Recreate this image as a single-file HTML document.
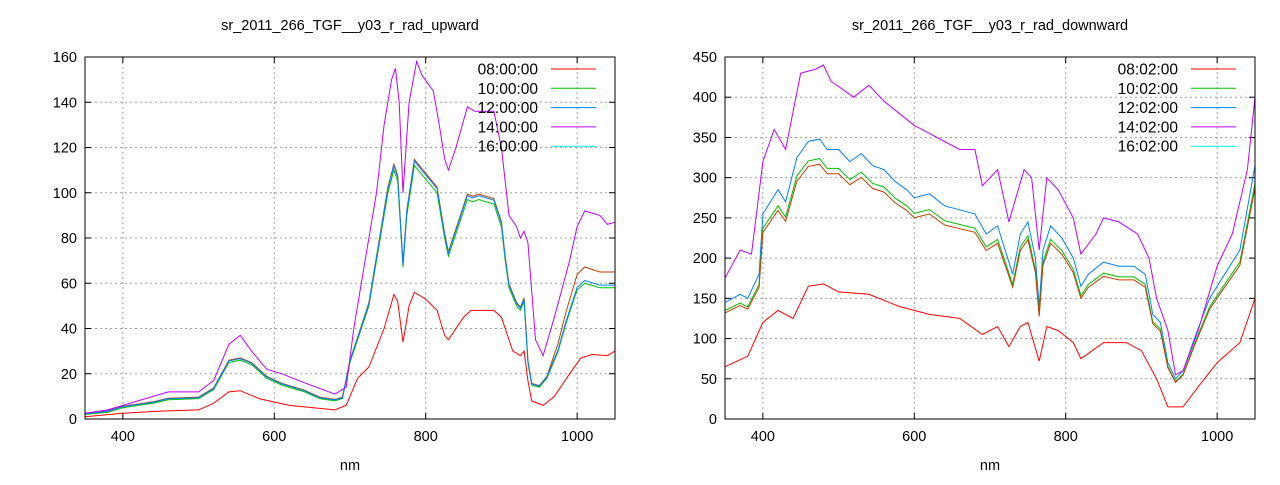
<!DOCTYPE html>
<html><head><meta charset="utf-8"><style>
body{margin:0;background:#fff;width:1280px;height:480px;overflow:hidden}
svg text{font-family:"Liberation Sans",sans-serif;font-size:14.5px;fill:#000}
svg text.lg{font-size:15.5px}
</style></head><body>
<svg id="s" width="1280" height="480" xmlns="http://www.w3.org/2000/svg"></svg>
<script>
const S=document.getElementById('s');let h='';
function chart(x0,x1,y0,y1,ymax,ystep,title,times,series){
 const X=v=>x0+(v-350)/700*(x1-x0), Y=v=>y1-v/ymax*(y1-y0);
 h+=`<text x="${(x0+x1)/2}" y="30" text-anchor="middle">${title}</text>`;
 h+=`<text x="${(x0+x1)/2}" y="470" text-anchor="middle">nm</text>`;
 for(let v=0;v<=ymax;v+=ystep){const y=Y(v);
  if(v>0&&v<ymax)h+=`<line x1="${x0}" x2="${x1}" y1="${y}" y2="${y}" stroke="#a0a0a0" stroke-dasharray="2,3"/>`;
  h+=`<line x1="${x0}" x2="${x0+6}" y1="${y}" y2="${y}" stroke="#000"/><line x1="${x1}" x2="${x1-6}" y1="${y}" y2="${y}" stroke="#000"/>`;
  h+=`<text x="${x0-8}" y="${y+5}" text-anchor="end">${v}</text>`;}
 for(let v=400;v<=1000;v+=200){const x=X(v);
  h+=`<line x1="${x}" x2="${x}" y1="${y0}" y2="${y1}" stroke="#a0a0a0" stroke-dasharray="2,3"/>`;
  h+=`<line x1="${x}" x2="${x}" y1="${y1}" y2="${y1-6}" stroke="#000"/><line x1="${x}" x2="${x}" y1="${y0}" y2="${y0+6}" stroke="#000"/>`;
  h+=`<text x="${x}" y="${y1+22}" text-anchor="middle">${v}</text>`;}
 for(const [c,pts] of series){
  let d='';for(let i=0;i<pts.length;i+=2)d+=(i?'L':'M')+X(pts[i]).toFixed(1)+','+Y(pts[i+1]).toFixed(1);
  h+=`<path d="${d}" fill="none" stroke="${c}" stroke-width="1"/>`;}
 const cols=['#ff0000','#00c000','#0080ff','#c000ff','#00eeee'];
 times.forEach((t,i)=>{const y=y0+12+i*19.3;
  h+=`<text class="lg" x="${x1-77}" y="${y+5.5}" text-anchor="end">${t}</text>`;
  h+=`<line x1="${x1-64}" x2="${x1-19}" y1="${y}" y2="${y}" stroke="${cols[i]}"/>`;});
 h+=`<rect x="${x0}" y="${y0}" width="${x1-x0}" height="${y1-y0}" fill="none" stroke="#000"/>`;
}
function sc(a,f,o=0){return a.map((v,i)=>i%2?v*f+o:v)}
const Lg=[350,2,380,3,400,5,420,6,440,7,460,8.5,500,9,520,13,540,25,555,26,570,24,590,18,610,15,640,12,660,9,680,8,690,9,700,25,715,40,725,50,740,80,750,100,758,110,763,105,770,67,775,90,785,112,795,108,810,102,815,100,825,80,830,72,840,82,855,97,862,96,870,97,890,95,900,85,905,70,910,58,920,50,925,48,930,52,935,25,940,15,950,14,960,18,975,30,985,42,1000,57,1010,60,1020,59,1030,58,1050,58];
const Lr=[350,1,400,2.5,450,3.5,500,4,520,7,540,12,555,12.5,580,9,620,6,680,4,695,6,710,18,725,23,745,40,758,55,763,52,770,34,778,50,785,56,800,53,815,48,825,37,830,35,850,45,860,48,890,48,900,45,915,30,925,28,930,30,935,17,940,8,955,6,970,10,990,20,1005,27,1020,28.5,1040,28,1050,30];
const Lm=[350,2.5,380,4,400,6,420,8,440,10,460,12,500,12,520,17,540,33,555,37,570,30,590,22,610,20,640,16,680,11,695,14,705,40,720,70,735,100,745,130,755,150,760,155,765,140,770,100,778,140,788,158,795,152,810,145,818,130,825,115,830,110,840,120,855,138,865,136,875,136,890,136,900,120,910,90,920,85,925,80,930,83,935,78,945,35,955,28,970,45,990,70,1000,85,1010,92,1030,90,1040,86,1050,87];
const Lb=Lg.map((v,i)=>i%2?v*1.015+0.3:v);
const Lo=Lg.map((v,i)=>i%2?(Lg[i-1]>960?v*1.12:v*1.02+0.5):v);
chart(85,615,57,419,160,20,'sr_2011_266_TGF__y03_r_rad_upward',['08:00:00','10:00:00','12:00:00','14:00:00','16:00:00'],
 [['#c04000',Lo],['#00c000',Lg],['#0080ff',Lb],['#ff0000',Lr],['#c000ff',Lm]]);
const Rb=[350,145,370,155,380,150,395,180,400,255,420,285,430,270,445,325,460,345,475,348,485,335,500,335,515,320,530,330,545,315,560,310,575,295,590,285,600,275,620,280,640,265,660,260,680,255,695,230,710,240,730,180,740,230,750,245,760,200,765,140,770,210,780,240,795,225,810,200,820,165,830,180,850,195,870,190,890,190,905,180,915,130,925,120,935,70,945,50,955,60,970,100,990,150,1010,180,1030,210,1050,315];
const Rr=[350,65,380,78,400,120,420,135,440,125,460,165,480,168,500,158,540,155,580,140,620,130,660,125,690,105,710,115,725,90,740,115,750,120,765,72,775,115,790,110,810,95,820,75,850,95,880,95,900,85,920,50,935,15,955,15,975,40,1000,70,1030,95,1050,150];
const Rm=[350,175,370,210,385,205,400,320,415,360,430,335,450,430,470,435,480,440,490,420,520,400,540,415,560,395,580,380,600,365,620,355,640,345,660,335,680,335,690,290,710,310,725,245,745,310,755,300,765,210,775,300,790,285,810,250,820,205,840,230,850,250,870,245,895,230,910,200,920,150,935,110,945,55,955,60,975,110,1000,190,1020,230,1040,310,1050,400];
chart(725,1255,57,419,450,50,'sr_2011_266_TGF__y03_r_rad_downward',['08:02:00','10:02:00','12:02:00','14:02:00','16:02:00'],
 [['#0080ff',Rb],['#00c000',sc(Rb,0.93)],['#c04000',sc(Rb,0.91)],['#ff0000',Rr],['#c000ff',Rm]]);
S.innerHTML=h;
</script>
</body></html>
